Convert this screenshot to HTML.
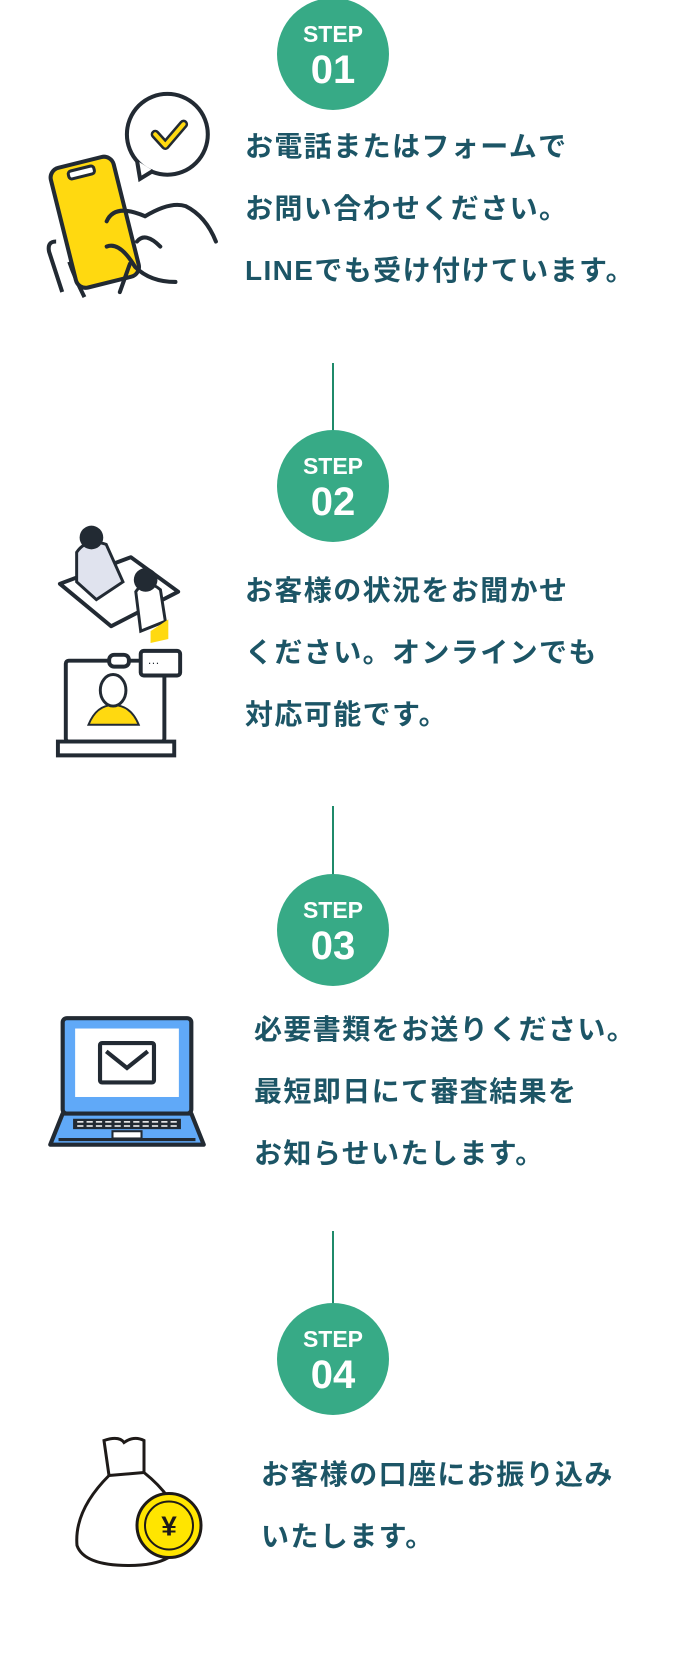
<!DOCTYPE html>
<html><head><meta charset="utf-8"><style>
*{margin:0;padding:0;box-sizing:border-box}
body{width:683px;height:1659px;background:#fff;position:relative;overflow:hidden;font-family:"Liberation Sans","Noto Sans CJK JP",sans-serif}
.c{position:absolute;width:112px;height:112px;border-radius:50%;background:#37aa86;color:#fff;text-align:center;left:277px;font-weight:bold}
.c .s{position:absolute;top:24px;left:0;right:0;font-size:23px;line-height:24px}
.c .n{position:absolute;top:50px;left:0;right:0;font-size:40px;line-height:44px}
.l{position:absolute;left:332px;width:2px;background:#1f8a6a}
.t{position:absolute;color:#1c5566;font-weight:bold;font-size:28px;line-height:62px;letter-spacing:1.4px;white-space:nowrap}
svg{position:absolute}
</style></head><body>
<div class="c" style="top:-2px"><div class="s">STEP</div><div class="n">01</div></div>
<div class="t" style="left:245px;top:116px">お電話またはフォームで<br>お問い合わせください。<br>LINEでも受け付けています。</div>
<svg style="left:44px;top:88px" width="182" height="216" viewBox="0 0 180 210">
<circle cx="122" cy="44" r="40" fill="#fff" stroke="#222a33" stroke-width="4"/>
<path d="M92 70 L95 88 L108 80" fill="#fff" stroke="#222a33" stroke-width="4"/>
<path d="M110 44 L120 55 L138 34" fill="none" stroke="#222a33" stroke-width="9" stroke-linecap="round" stroke-linejoin="round"/>
<path d="M110 44 L120 55 L138 34" fill="none" stroke="#ffd910" stroke-width="4" stroke-linecap="round" stroke-linejoin="round"/>
<path d="M18 200 L5 160 Q3 150 12 150 M40 205 Q30 185 25 170" fill="none" stroke="#222a33" stroke-width="4"/>
<g transform="rotate(-14 50 130)"><rect x="18" y="70" width="64" height="122" rx="10" fill="#ffd910" stroke="#222a33" stroke-width="4"/>
<rect x="36" y="76" width="26" height="8" rx="3" fill="#fff" stroke="#222a33" stroke-width="3"/></g>
<path d="M75 200 L85 172 M100 125 Q125 110 140 115 Q160 125 170 150 M62 130 Q70 112 100 125 M92 150 Q100 140 115 155 M62 155 Q75 150 90 175 Q105 190 130 190" fill="none" stroke="#222a33" stroke-width="4" stroke-linecap="round"/>
</svg>
<div class="l" style="top:363px;height:70px"></div>
<div class="c" style="top:430px"><div class="s">STEP</div><div class="n">02</div></div>
<div class="t" style="left:245px;top:560px">お客様の状況をお聞かせ<br>ください。オンラインでも<br>対応可能です。</div>
<svg style="left:52px;top:518px" width="138" height="246" viewBox="0 0 140 240">
<path d="M8 62 L60 105 L128 70 L80 35 Z" fill="#fff" stroke="#222a33" stroke-width="4" stroke-linejoin="round"/>
<path d="M25 30 Q35 15 55 22 L72 60 L45 78 L25 60 Z" fill="#e0e3ee" stroke="#222a33" stroke-width="3"/>
<circle cx="40" cy="15" r="12" fill="#222a33"/>
<path d="M85 70 Q95 55 110 68 L115 100 L90 110 Z" fill="#fff" stroke="#222a33" stroke-width="3"/>
<circle cx="95" cy="58" r="12" fill="#222a33"/>
<path d="M100 110 L118 98 L118 118 L100 122 Z" fill="#ffd910"/>
<rect x="14" y="140" width="100" height="82" rx="3" fill="#fff" stroke="#222a33" stroke-width="4"/>
<rect x="58" y="134" width="20" height="12" rx="5" fill="#fff" stroke="#222a33" stroke-width="4"/>
<rect x="90" y="130" width="40" height="25" rx="3" fill="#fff" stroke="#222a33" stroke-width="4"/>
<text x="97" y="146" font-size="12" fill="#222a33">···</text>
<path d="M37 205 Q45 185 62 185 Q80 185 88 205 Z" fill="#ffd910" stroke="#222a33" stroke-width="2"/>
<ellipse cx="62" cy="170" rx="13" ry="16" fill="#fff" stroke="#222a33" stroke-width="3"/>
<path d="M6 222 L124 222 L124 236 L6 236 Z" fill="#fff" stroke="#222a33" stroke-width="4"/>
</svg>
<div class="l" style="top:806px;height:72px"></div>
<div class="c" style="top:874px"><div class="s">STEP</div><div class="n">03</div></div>
<div class="t" style="left:254px;top:999px">必要書類をお送りください。<br>最短即日にて審査結果を<br>お知らせいたします。</div>
<svg style="left:48px;top:1014px" width="158" height="139" viewBox="0 0 152 134">
<rect x="14" y="4" width="124" height="92" rx="4" fill="#60a9f8" stroke="#222a33" stroke-width="4"/>
<rect x="26" y="14" width="100" height="66" fill="#fff"/>
<rect x="50" y="28" width="52" height="38" rx="2" fill="#fff" stroke="#222a33" stroke-width="4"/>
<path d="M56 36 L76 52 L96 36" fill="none" stroke="#222a33" stroke-width="4"/>
<path d="M14 96 L138 96 L150 126 L2 126 Z" fill="#60a9f8" stroke="#222a33" stroke-width="4" stroke-linejoin="round"/>
<rect x="24" y="101" width="104" height="10" fill="#222a33"/>
<path d="M28 104 H124 M28 108 H124" stroke="#fff" stroke-width="1.5" stroke-dasharray="6 3"/>
<rect x="62" y="113" width="28" height="7" fill="#fff" stroke="#222a33" stroke-width="2"/>
<line x1="10" y1="121" x2="142" y2="121" stroke="#222a33" stroke-width="3"/>
</svg>
<div class="l" style="top:1231px;height:76px"></div>
<div class="c" style="top:1303px"><div class="s">STEP</div><div class="n">04</div></div>
<div class="t" style="left:261px;top:1444px">お客様の口座にお振り込み<br>いたします。</div>
<svg style="left:69px;top:1428px" width="140" height="145" viewBox="0 0 140 140">
<path d="M40 45 Q5 80 8 115 Q15 135 60 135 Q110 135 115 105 Q110 70 75 42" fill="#fff" stroke="#1e1a18" stroke-width="3"/>
<path d="M40 45 L35 10 Q50 5 55 12 Q65 5 75 10 L75 42 Z" fill="#fff" stroke="#1e1a18" stroke-width="3"/>
<circle cx="100" cy="95" r="32" fill="#ffe500" stroke="#1e1a18" stroke-width="3"/>
<circle cx="100" cy="95" r="24" fill="none" stroke="#1e1a18" stroke-width="2"/>
<text x="100" y="105" text-anchor="middle" font-size="28" font-weight="bold" fill="#1e1a18">¥</text>
</svg>
</body></html>
